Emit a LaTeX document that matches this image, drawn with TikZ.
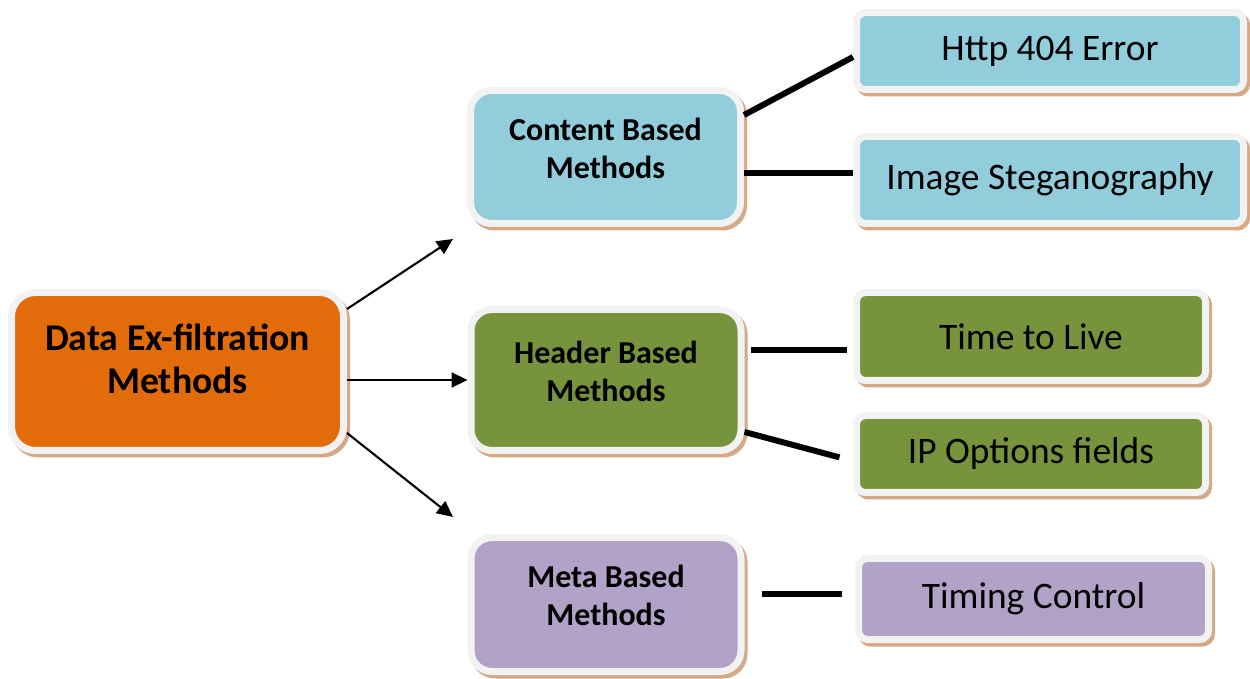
\documentclass[tikz,border=0pt]{standalone}
\usepackage{fontspec}
\setmainfont{Carlito}
\usetikzlibrary{positioning,arrows.meta,calc}
\definecolor{framegray}{HTML}{F2F2F2}
\definecolor{shadowtan}{HTML}{D5A886}
\definecolor{rootorange}{HTML}{E36C0A}
\definecolor{contentblue}{HTML}{92CDDC}
\definecolor{headergreen}{HTML}{77933C}
\definecolor{metapurple}{HTML}{B2A2C7}
\tikzset{
  box/.style={rectangle, draw=framegray, line width=0.14cm, align=center,
    preaction={fill=shadowtan, draw=shadowtan, line width=0.14cm,
      transform canvas={shift={(0.06cm,-0.07cm)}}}},
  root/.style={box, rounded corners=0.48cm, fill=rootorange, minimum width=6.64cm,
    minimum height=3.16cm, font=\bfseries\fontsize{21.5}{24.4}\selectfont, text depth=0.5cm},
  method/.style={box, rounded corners=0.42cm, minimum width=5.4cm,
    font=\bfseries\fontsize{18.2}{21.5}\selectfont, text depth=0.36cm},
  leaf/.style={box, rounded corners=0.18cm, font=\fontsize{21.3}{24}\selectfont},
  connect/.style={-{Triangle[length=0.32cm,width=0.3cm]}, line width=1.2pt},
  link/.style={line width=3.4pt}
}

\begin{document}
\begin{tikzpicture}
	\useasboundingbox (0,0) rectangle (25,-13.58);

	\node[root] (root) at (3.55,-7.43) {Data Ex-filtration\\Methods};

	\node[method, fill=contentblue, minimum height=2.66cm] (content) at (12.11,-3.14) {Content Based\\Methods};
	\node[method, fill=headergreen, minimum height=2.82cm] (header) at (12.12,-7.6) {Header Based\\Methods};
	\node[method, fill=metapurple, minimum height=2.68cm] (meta) at (12.12,-12.09) {Meta Based\\Methods};

	\node[leaf, fill=contentblue, minimum width=7.74cm, minimum height=1.54cm] (http) at (21.0,-1.02) {Http 404 Error};
	\node[leaf, fill=contentblue, minimum width=7.74cm, minimum height=1.74cm] (stego) at (21.0,-3.6) {Image Steganography};
	\node[leaf, fill=headergreen, minimum width=6.98cm, minimum height=1.76cm] (ttl) at (20.62,-6.73) {Time to Live};
	\node[leaf, fill=headergreen, minimum width=6.98cm, minimum height=1.54cm] (ipopt) at (20.62,-9.08) {IP Options fields};
	\node[leaf, fill=metapurple, minimum width=7.0cm, minimum height=1.62cm] (timing) at (20.67,-11.98) {Timing Control};

	\coordinate (upend) at (9.06,-4.78);
	\coordinate (downend) at (9.06,-10.34);

	\draw[connect] ([yshift=1.25cm]root.east) -- (upend);
	\draw[connect] (root.east |- header.west) -- (header.west);
	\draw[connect] ([yshift=-1.23cm]root.east) -- (downend);

	\draw[link] ([yshift=0.84cm]content.east) -- ([yshift=-0.12cm]http.west);
	\draw[link] ([yshift=-0.32cm]content.east) -- ([yshift=0.14cm]stego.west);
	\draw[link, shorten <=0.13cm, shorten >=0.13cm] ([yshift=0.6cm]header.east) -- ([yshift=-0.27cm]ttl.west);
	\draw[link, shorten >=0.28cm] ([yshift=-1.04cm]header.east) -- ([yshift=-0.14cm]ipopt.west);
	\draw[link, shorten <=0.35cm, shorten >=0.27cm] ([yshift=0.21cm]meta.east) -- ([yshift=0.1cm]timing.west);
\end{tikzpicture}
\end{document}
